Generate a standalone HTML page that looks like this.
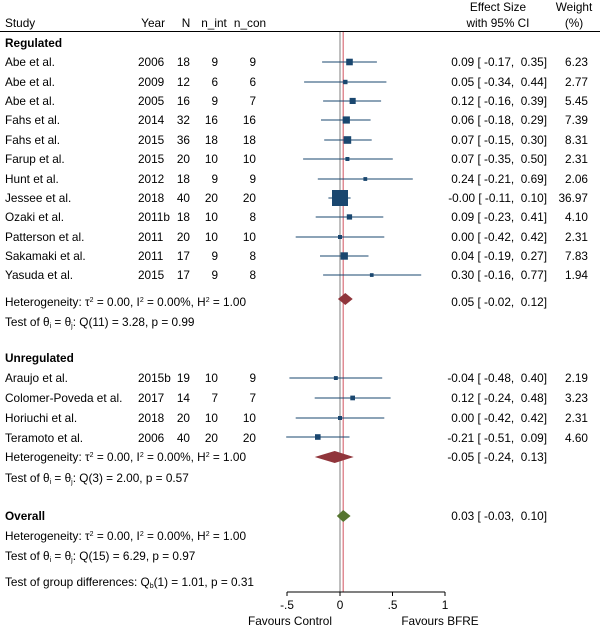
<!DOCTYPE html>
<html><head><meta charset="utf-8"><style>
html,body{margin:0;padding:0;background:#fff;}
svg{display:block;font-family:"Liberation Sans",Arial,sans-serif;font-size:11.8px;fill:#000;}
.e{white-space:pre;}
</style></head><body>
<svg width="600" height="627" viewBox="0 0 600 627" xmlns="http://www.w3.org/2000/svg" xml:space="preserve">
<text x="5" y="27">Study</text>
<text x="165" y="27" text-anchor="end">Year</text>
<text x="186" y="27" text-anchor="middle">N</text>
<text x="214" y="27" text-anchor="middle">n_int</text>
<text x="250" y="27" text-anchor="middle">n_con</text>
<text x="498" y="11" text-anchor="middle">Effect Size</text>
<text x="498" y="27" text-anchor="middle">with 95% CI</text>
<text x="574" y="11" text-anchor="middle">Weight</text>
<text x="574" y="27" text-anchor="middle">(%)</text>
<line x1="0" y1="31.5" x2="600" y2="31.5" stroke="#000" stroke-width="1"/>
<line x1="340" y1="32" x2="340" y2="592" stroke="#aaa" stroke-width="1.5"/>
<line x1="343.2" y1="32" x2="343.2" y2="592" stroke="#d9707a" stroke-width="1.2"/>
<line x1="287" y1="592" x2="445" y2="592" stroke="#000" stroke-width="1"/>
<g stroke="#000"><line x1="287" y1="592" x2="287" y2="596"/><line x1="340" y1="592" x2="340" y2="596"/><line x1="392.5" y1="592" x2="392.5" y2="596"/><line x1="445" y1="592" x2="445" y2="596"/></g>
<text x="287" y="609" text-anchor="middle">-.5</text>
<text x="340" y="609" text-anchor="middle">0</text>
<text x="392.5" y="609" text-anchor="middle">.5</text>
<text x="445" y="609" text-anchor="middle">1</text>
<text x="290" y="625" text-anchor="middle">Favours Control</text>
<text x="440" y="625" text-anchor="middle">Favours BFRE</text>

<text x="5" y="47" font-weight="bold">Regulated</text>

<g>
<text x="5" y="66">Abe et al.</text><text x="138" y="66">2006</text><text x="190" y="66" text-anchor="end">18</text><text x="218" y="66" text-anchor="end">9</text><text x="256" y="66" text-anchor="end">9</text><text class="e" x="547" y="66" text-anchor="end">0.09 [ -0.17,  0.35]</text><text x="588" y="66" text-anchor="end">6.23</text>
<text x="5" y="86">Abe et al.</text><text x="138" y="86">2009</text><text x="190" y="86" text-anchor="end">12</text><text x="218" y="86" text-anchor="end">6</text><text x="256" y="86" text-anchor="end">6</text><text class="e" x="547" y="86" text-anchor="end">0.05 [ -0.34,  0.44]</text><text x="588" y="86" text-anchor="end">2.77</text>
<text x="5" y="105">Abe et al.</text><text x="138" y="105">2005</text><text x="190" y="105" text-anchor="end">16</text><text x="218" y="105" text-anchor="end">9</text><text x="256" y="105" text-anchor="end">7</text><text class="e" x="547" y="105" text-anchor="end">0.12 [ -0.16,  0.39]</text><text x="588" y="105" text-anchor="end">5.45</text>
<text x="5" y="124">Fahs et al.</text><text x="138" y="124">2014</text><text x="190" y="124" text-anchor="end">32</text><text x="218" y="124" text-anchor="end">16</text><text x="256" y="124" text-anchor="end">16</text><text class="e" x="547" y="124" text-anchor="end">0.06 [ -0.18,  0.29]</text><text x="588" y="124" text-anchor="end">7.39</text>
<text x="5" y="144">Fahs et al.</text><text x="138" y="144">2015</text><text x="190" y="144" text-anchor="end">36</text><text x="218" y="144" text-anchor="end">18</text><text x="256" y="144" text-anchor="end">18</text><text class="e" x="547" y="144" text-anchor="end">0.07 [ -0.15,  0.30]</text><text x="588" y="144" text-anchor="end">8.31</text>
<text x="5" y="163">Farup et al.</text><text x="138" y="163">2015</text><text x="190" y="163" text-anchor="end">20</text><text x="218" y="163" text-anchor="end">10</text><text x="256" y="163" text-anchor="end">10</text><text class="e" x="547" y="163" text-anchor="end">0.07 [ -0.35,  0.50]</text><text x="588" y="163" text-anchor="end">2.31</text>
<text x="5" y="183">Hunt et al.</text><text x="138" y="183">2012</text><text x="190" y="183" text-anchor="end">18</text><text x="218" y="183" text-anchor="end">9</text><text x="256" y="183" text-anchor="end">9</text><text class="e" x="547" y="183" text-anchor="end">0.24 [ -0.21,  0.69]</text><text x="588" y="183" text-anchor="end">2.06</text>
<text x="5" y="202">Jessee et al.</text><text x="138" y="202">2018</text><text x="190" y="202" text-anchor="end">40</text><text x="218" y="202" text-anchor="end">20</text><text x="256" y="202" text-anchor="end">20</text><text class="e" x="547" y="202" text-anchor="end">-0.00 [ -0.11,  0.10]</text><text x="588" y="202" text-anchor="end">36.97</text>
<text x="5" y="221">Ozaki et al.</text><text x="138" y="221">2011b</text><text x="190" y="221" text-anchor="end">18</text><text x="218" y="221" text-anchor="end">10</text><text x="256" y="221" text-anchor="end">8</text><text class="e" x="547" y="221" text-anchor="end">0.09 [ -0.23,  0.41]</text><text x="588" y="221" text-anchor="end">4.10</text>
<text x="5" y="241">Patterson et al.</text><text x="138" y="241">2011</text><text x="190" y="241" text-anchor="end">20</text><text x="218" y="241" text-anchor="end">10</text><text x="256" y="241" text-anchor="end">10</text><text class="e" x="547" y="241" text-anchor="end">0.00 [ -0.42,  0.42]</text><text x="588" y="241" text-anchor="end">2.31</text>
<text x="5" y="260">Sakamaki et al.</text><text x="138" y="260">2011</text><text x="190" y="260" text-anchor="end">17</text><text x="218" y="260" text-anchor="end">9</text><text x="256" y="260" text-anchor="end">8</text><text class="e" x="547" y="260" text-anchor="end">0.04 [ -0.19,  0.27]</text><text x="588" y="260" text-anchor="end">7.83</text>
<text x="5" y="279">Yasuda et al.</text><text x="138" y="279">2015</text><text x="190" y="279" text-anchor="end">17</text><text x="218" y="279" text-anchor="end">9</text><text x="256" y="279" text-anchor="end">8</text><text class="e" x="547" y="279" text-anchor="end">0.30 [ -0.16,  0.77]</text><text x="588" y="279" text-anchor="end">1.94</text>
<text x="5" y="306">Heterogeneity: τ<tspan dy="-4" font-size="7">2</tspan><tspan dy="4"> = 0.00, I</tspan><tspan dy="-4" font-size="7">2</tspan><tspan dy="4"> = 0.00%, H</tspan><tspan dy="-4" font-size="7">2</tspan><tspan dy="4"> = 1.00</tspan></text>
<text class="e" x="547" y="306" text-anchor="end">0.05 [ -0.02,  0.12]</text>
<text x="5" y="326">Test of θ<tspan font-size="7" dy="2">i</tspan><tspan dy="-2"> = θ</tspan><tspan font-size="7" dy="2">j</tspan><tspan dy="-2">: Q(11) = 3.28, p = 0.99</tspan></text>

<text x="5" y="362" font-weight="bold">Unregulated</text>
<text x="5" y="382">Araujo et al.</text><text x="138" y="382">2015b</text><text x="190" y="382" text-anchor="end">19</text><text x="218" y="382" text-anchor="end">10</text><text x="256" y="382" text-anchor="end">9</text><text class="e" x="547" y="382" text-anchor="end">-0.04 [ -0.48,  0.40]</text><text x="588" y="382" text-anchor="end">2.19</text>
<text x="5" y="402">Colomer-Poveda et al.</text><text x="138" y="402">2017</text><text x="190" y="402" text-anchor="end">14</text><text x="218" y="402" text-anchor="end">7</text><text x="256" y="402" text-anchor="end">7</text><text class="e" x="547" y="402" text-anchor="end">0.12 [ -0.24,  0.48]</text><text x="588" y="402" text-anchor="end">3.23</text>
<text x="5" y="422">Horiuchi et al.</text><text x="138" y="422">2018</text><text x="190" y="422" text-anchor="end">20</text><text x="218" y="422" text-anchor="end">10</text><text x="256" y="422" text-anchor="end">10</text><text class="e" x="547" y="422" text-anchor="end">0.00 [ -0.42,  0.42]</text><text x="588" y="422" text-anchor="end">2.31</text>
<text x="5" y="442">Teramoto et al.</text><text x="138" y="442">2006</text><text x="190" y="442" text-anchor="end">40</text><text x="218" y="442" text-anchor="end">20</text><text x="256" y="442" text-anchor="end">20</text><text class="e" x="547" y="442" text-anchor="end">-0.21 [ -0.51,  0.09]</text><text x="588" y="442" text-anchor="end">4.60</text>
<text x="5" y="461">Heterogeneity: τ<tspan dy="-4" font-size="7">2</tspan><tspan dy="4"> = 0.00, I</tspan><tspan dy="-4" font-size="7">2</tspan><tspan dy="4"> = 0.00%, H</tspan><tspan dy="-4" font-size="7">2</tspan><tspan dy="4"> = 1.00</tspan></text>
<text class="e" x="547" y="461" text-anchor="end">-0.05 [ -0.24,  0.13]</text>
<text x="5" y="482">Test of θ<tspan font-size="7" dy="2">i</tspan><tspan dy="-2"> = θ</tspan><tspan font-size="7" dy="2">j</tspan><tspan dy="-2">: Q(3) = 2.00, p = 0.57</tspan></text>

<text x="5" y="520" font-weight="bold">Overall</text>
<text class="e" x="547" y="520" text-anchor="end">0.03 [ -0.03,  0.10]</text>
<text x="5" y="540">Heterogeneity: τ<tspan dy="-4" font-size="7">2</tspan><tspan dy="4"> = 0.00, I</tspan><tspan dy="-4" font-size="7">2</tspan><tspan dy="4"> = 0.00%, H</tspan><tspan dy="-4" font-size="7">2</tspan><tspan dy="4"> = 1.00</tspan></text>
<text x="5" y="560">Test of θ<tspan font-size="7" dy="2">i</tspan><tspan dy="-2"> = θ</tspan><tspan font-size="7" dy="2">j</tspan><tspan dy="-2">: Q(15) = 6.29, p = 0.97</tspan></text>
<text x="5" y="586">Test of group differences: Q<tspan font-size="7" dy="2">b</tspan><tspan dy="-2">(1) = 1.01, p = 0.31</tspan></text>
</g>

<g stroke="#1a476f" stroke-width="1">
<line x1="322.1" y1="62" x2="376.9" y2="62"/>
<line x1="304.1" y1="82" x2="386.4" y2="82"/>
<line x1="323.1" y1="101" x2="381.1" y2="101"/>
<line x1="321.0" y1="120" x2="370.6" y2="120"/>
<line x1="324.2" y1="140" x2="371.7" y2="140"/>
<line x1="303.1" y1="159" x2="392.8" y2="159"/>
<line x1="317.8" y1="179" x2="412.8" y2="179"/>
<line x1="328.4" y1="198" x2="350.6" y2="198"/>
<line x1="315.7" y1="217" x2="383.3" y2="217"/>
<line x1="295.7" y1="237" x2="384.3" y2="237"/>
<line x1="320.0" y1="256" x2="368.5" y2="256"/>
<line x1="323.1" y1="275" x2="421.2" y2="275"/>
<line x1="289.4" y1="378" x2="382.2" y2="378"/>
<line x1="314.7" y1="398" x2="390.6" y2="398"/>
<line x1="295.7" y1="418" x2="384.3" y2="418"/>
<line x1="286.2" y1="437" x2="349.5" y2="437"/>
</g>
<g fill="#1a476f">
<rect x="346.2" y="58.7" width="6.6" height="6.6"/>
<rect x="343.1" y="79.8" width="4.4" height="4.4"/>
<rect x="349.6" y="97.9" width="6.1" height="6.1"/>
<rect x="342.7" y="116.4" width="7.2" height="7.2"/>
<rect x="343.6" y="136.2" width="7.6" height="7.6"/>
<rect x="345.4" y="157" width="4" height="4"/>
<rect x="363.4" y="177.1" width="3.8" height="3.8"/>
<rect x="332" y="190" width="16" height="16"/>
<rect x="346.8" y="214.3" width="5.3" height="5.3"/>
<rect x="338" y="235" width="4" height="4"/>
<rect x="340.5" y="252.3" width="7.4" height="7.4"/>
<rect x="369.9" y="273.2" width="3.7" height="3.7"/>
<rect x="333.9" y="376.1" width="3.9" height="3.9"/>
<rect x="350.3" y="395.6" width="4.7" height="4.7"/>
<rect x="338" y="416" width="4" height="4"/>
<rect x="315" y="434.2" width="5.6" height="5.6"/>
</g>
<polygon points="337.9,299 345.3,293 352.7,299 345.3,305" fill="#90353b"/>
<polygon points="314.7,457 334.7,451 353.7,457 334.7,463" fill="#90353b"/>
<polygon points="336.8,516 343.2,510 350.6,516 343.2,522" fill="#55752f"/>
</svg>
</body></html>
